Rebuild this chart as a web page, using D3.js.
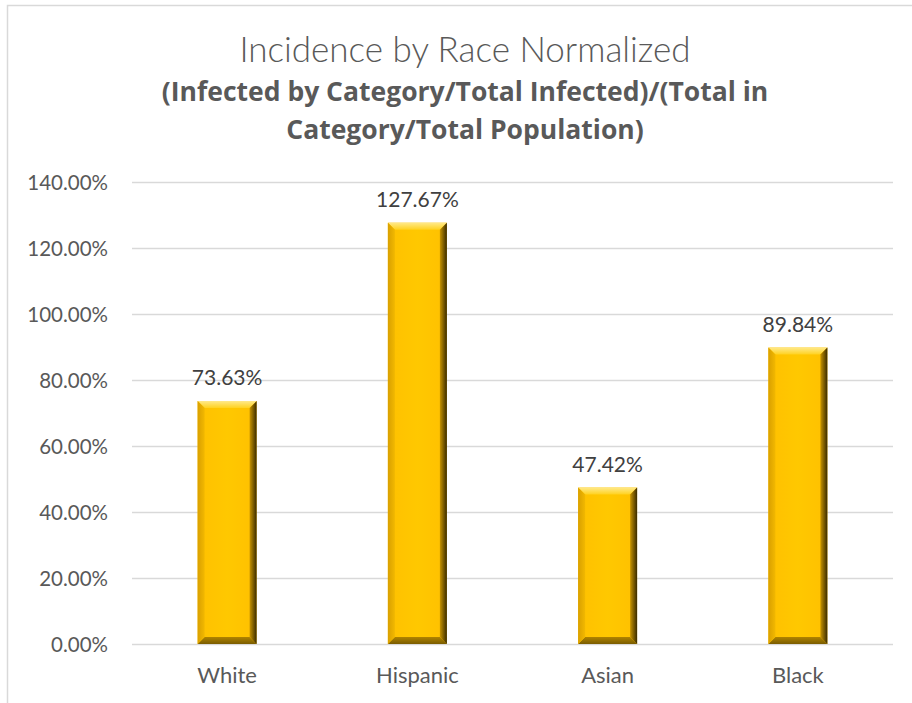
<!DOCTYPE html>
<html>
<head>
<meta charset="utf-8">
<script src="https://cdn.jsdelivr.net/npm/d3@7"></script>
<style>
  html, body { margin: 0; padding: 0; background: #fff; }
  svg { display: block; }
  text { font-family: Lato, "Open Sans", sans-serif; }
  text.sub { font-family: "Open Sans", Lato, sans-serif; }
</style>
</head>
<body>
<svg id="chart" width="912" height="703"></svg>
<script>
// Normalized incidence (share of infected / share of population) by race
const categories = ["White", "Hispanic", "Asian", "Black"];
const values = [0.7363, 1.2767, 0.4742, 0.8984];
const yTicks = [0, 0.2, 0.4, 0.6, 0.8, 1.0, 1.2, 1.4];
const titleText = "Incidence by Race Normalized";
const subtitleLines = ["(Infected by Category/Total Infected)/(Total in", "Category/Total Population)"];

const svg = d3.select("#chart");
const W = 912, H = 703;
const margin = { left: 132, right: 19, top: 182, bottom: 59 };

// Chart frame
svg.append("path")
  .attr("d", `M7.5,${H} L7.5,5.5 L${W},5.5`)
  .attr("fill", "none").attr("stroke", "#d9d9d9").attr("stroke-width", 1.5);

// Titles
svg.append("text")
  .attr("x", 465).attr("y", 62)
  .attr("text-anchor", "middle")
  .attr("font-size", 35).attr("font-weight", 300)
  .attr("fill", "#595959")
  .text(titleText);
svg.selectAll("text.sub").data(subtitleLines).join("text")
  .attr("class", "sub")
  .attr("x", 465).attr("y", (d, i) => 101 + i * 38)
  .attr("text-anchor", "middle")
  .attr("font-size", 26.5).attr("font-weight", 700)
  .attr("fill", "#595959")
  .text(d => d);

const x = d3.scaleBand().domain(categories)
  .range([margin.left, W - margin.right]).paddingInner(0.69).paddingOuter(0.345);
const y = d3.scaleLinear().domain([0, 1.4]).range([H - margin.bottom, margin.top]);

// Gridlines
svg.append("g")
  .selectAll("line").data(yTicks).join("line")
  .attr("x1", margin.left).attr("x2", W - margin.right)
  .attr("y1", d => Math.round(y(d)) + 0.5).attr("y2", d => Math.round(y(d)) + 0.5)
  .attr("stroke", "#d9d9d9").attr("stroke-width", 1.5);

// Y axis labels
const yAxis = d3.axisLeft(y).tickValues(yTicks)
  .tickFormat(d => (d * 100).toFixed(2) + "%").tickSize(0).tickPadding(0);
const gy = svg.append("g").attr("transform", `translate(108,0)`).call(yAxis);
gy.select(".domain").remove();
gy.selectAll("text").attr("font-size", 20.5).attr("fill", "#595959").attr("dy", "0.35em");

// X axis labels
const xAxis = d3.axisBottom(x).tickSize(0).tickPadding(0);
const gx = svg.append("g").attr("transform", `translate(0,${H - margin.bottom})`).call(xAxis);
gx.select(".domain").remove();
gx.selectAll("text").attr("font-size", 22).attr("fill", "#595959").attr("dy", null).attr("y", 39);

// Gradients for bevelled bars
const defs = svg.append("defs");
function lin(id, x1, y1, x2, y2, stops) {
  const g = defs.append("linearGradient").attr("id", id)
    .attr("x1", x1).attr("y1", y1).attr("x2", x2).attr("y2", y2);
  stops.forEach(([o, c]) => g.append("stop").attr("offset", o).attr("stop-color", c));
}
lin("bevTop", 0, 0, 0, 1, [[0, "#ffe98a"], [1, "#ffd21f"]]);
lin("bevBottom", 0, 0, 0, 1, [[0, "#b08400"], [1, "#7a5c00"]]);
lin("bevLeft", 0, 0, 1, 0, [[0, "#d9a000"], [1, "#f2b800"]]);
lin("bevRight", 0, 0, 1, 0, [[0, "#c89400"], [1, "#3a2b00"]]);
lin("face", 0, 0, 1, 0, [[0, "#ffc000"], [0.5, "#ffc800"], [1, "#ffc000"]]);

const b = 7;
svg.append("g").selectAll("g").data(categories.map((c, i) => ({ c, v: values[i] })))
  .join("g")
  .each(function (d) {
    const g = d3.select(this);
    const x0 = x(d.c), w = x.bandwidth(), y0 = y(d.v), y1 = y(0);
    const x1 = x0 + w;
    g.append("rect").attr("x", x0).attr("y", y0).attr("width", w).attr("height", y1 - y0)
      .attr("fill", "url(#face)");
    const poly = (pts, fill) => g.append("polygon")
      .attr("points", pts.map(p => p.join(",")).join(" ")).attr("fill", fill);
    poly([[x0, y0], [x1, y0], [x1 - b, y0 + b], [x0 + b, y0 + b]], "url(#bevTop)");
    poly([[x0, y1], [x1, y1], [x1 - b, y1 - b], [x0 + b, y1 - b]], "url(#bevBottom)");
    poly([[x0, y0], [x0 + b, y0 + b], [x0 + b, y1 - b], [x0, y1]], "url(#bevLeft)");
    poly([[x1, y0], [x1 - b, y0 + b], [x1 - b, y1 - b], [x1, y1]], "url(#bevRight)");
  });

// Value labels
svg.append("g").selectAll("text").data(categories.map((c, i) => ({ c, v: values[i] })))
  .join("text")
  .attr("x", d => x(d.c) + x.bandwidth() / 2)
  .attr("y", d => y(d.v) - 16)
  .attr("text-anchor", "middle")
  .attr("font-size", 21).attr("fill", "#404040")
  .text(d => (d.v * 100).toFixed(2) + "%");
</script>
</body>
</html>
